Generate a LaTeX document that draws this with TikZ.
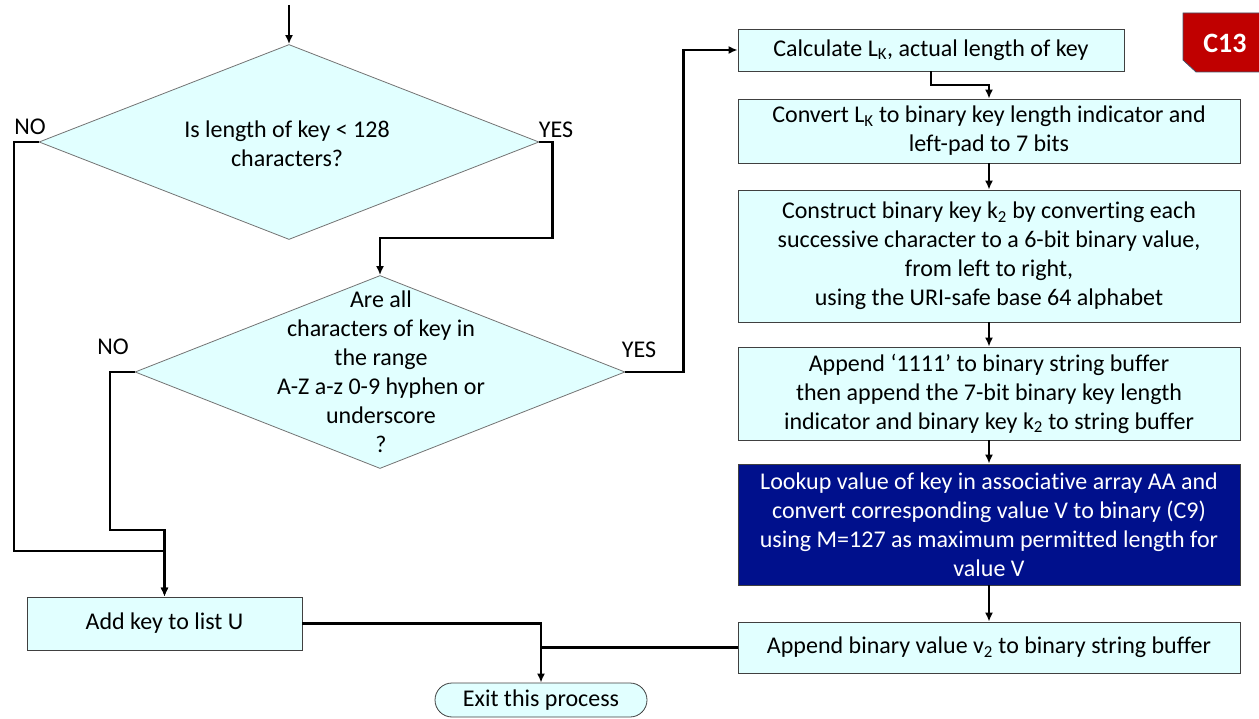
\documentclass[tikz,border=0pt]{standalone}
\usepackage{fontspec}
\setmainfont{Carlito}[Ligatures=NoCommon]
\usetikzlibrary{arrows.meta,shapes.geometric,shapes.misc}

\definecolor{boxcyan}{RGB}{225,255,255}
\definecolor{boxblue}{RGB}{0,16,140}
\definecolor{tagred}{RGB}{192,0,0}
\definecolor{tagedge}{RGB}{68,84,106}

\begin{document}
\begin{tikzpicture}[x=1pt, y=-1pt, >={Latex[length=9pt,width=8pt]},
  font=\fontsize{24}{29}\selectfont,
  procbox/.style={draw=black!75, line width=0.8pt, fill=boxcyan, inner sep=0pt, align=center},
  decision/.style={diamond, draw=black!55, line width=0.8pt, fill=boxcyan, inner sep=0pt},
  flow/.style={line width=2.2pt}]

\useasboundingbox (0,0) rectangle (1259,719);

% Entscheidungen
\coordinate (start) at (289,5);
\node[decision, minimum width=500pt, minimum height=195pt] (d1) at (289,142) {};
\node[align=center] (q1) at (287,144) {Is length of key < 128\\characters?};
\node[decision, minimum width=490pt, minimum height=193pt] (d2) at (380,372) {};
\node[align=center] (q2) at (381,372) {Are all\\characters of key in\\the range\\A-Z a-z 0-9 hyphen or\\underscore\\?};

\node (no1) at (30,127) {NO};
\node (yes1) at (556,130) {YES};
\node (no2) at (113,347) {NO};
\node (yes2) at (639,350) {YES};

% rechte Spalte
\node[procbox, minimum width=386pt, minimum height=42pt] (calc) at (931,50) {Calculate L\textsubscript{K}, actual length of key};
\node[procbox, minimum width=502pt, minimum height=64pt] (conv) at (989,131) {Convert L\textsubscript{K} to binary key length indicator and\\left-pad to 7 bits};
\node[procbox, minimum width=502pt, minimum height=132pt] (cons) at (989,256) {Construct binary key k\textsubscript{2} by converting each\\successive character to a 6-bit binary value,\\from left to right,\\using the URI-safe base 64 alphabet};
\node[procbox, minimum width=502pt, minimum height=93pt] (app) at (989,393.5) {Append ‘1111’ to binary string buffer\\then append the 7-bit binary key length\\indicator and binary key k\textsubscript{2} to string buffer};
\node[procbox, fill=boxblue, text=white, minimum width=502pt, minimum height=121pt] (look) at (989,524.5) {Lookup value of key in associative array AA and\\convert corresponding value V to binary (C9)\\using M=127 as maximum permitted length for\\value V};
\node[procbox, minimum width=502pt, minimum height=51pt] (bin) at (989,647.5) {Append binary value v\textsubscript{2} to binary string buffer};

\node[procbox, minimum width=275pt, minimum height=53pt] (add) at (164.5,623.5) {Add key to list U};
\node[procbox, rounded rectangle, minimum width=212pt, minimum height=34pt] (exit) at (541,700) {Exit this process};

% Marke
\draw[fill=tagred, draw=tagedge, line width=0.8pt] (1183,13) -- (1260,13) -- (1260,72) -- (1196,72) -- (1183,60) -- cycle;
\node[text=white, font=\fontsize{28}{32}\selectfont\bfseries] (tag) at (1225,43) {C13};

% Verbindungen
\draw[flow,->] (start) -- (d1.north);
\draw[flow,->] (d1.east) -- ++(13,0) -- ++(0,96) -| (d2.north);
\draw[flow,->] (d1.west) -- ++(-25,0) -- ++(0,409) -| (add.north);
\draw[flow,->] (d2.west) -- ++(-25,0) -- ++(0,158) -| (add.north);
\draw[flow,->] (d2.east) -- ++(58,0) |- (calc.west);
\draw[flow,->] (calc.south) -- ++(0,14) -| (conv.north);
\foreach \a/\b in {conv/cons, cons/app, app/look, look/bin}{
  \draw[flow,->] (\a.south) -- (\b.north);
}
\draw[flow,->] (add.east) -| (exit.north);
\draw[flow] (bin.west) -- (exit.north |- bin.west);

\end{tikzpicture}
\end{document}
